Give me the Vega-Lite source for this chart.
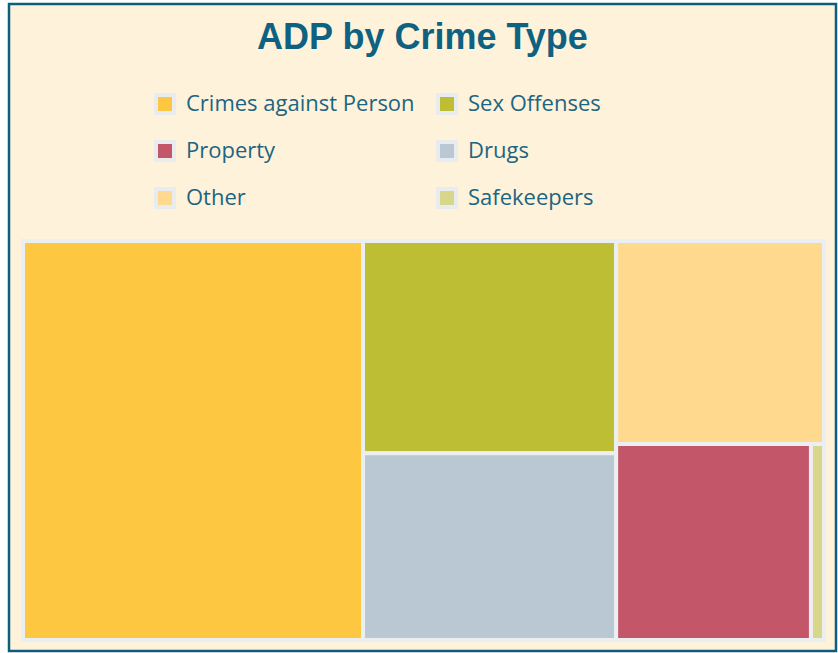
{
  "$schema": "https://vega.github.io/schema/vega-lite/v6.json",
  "width": 827,
  "height": 647,
  "autosize": {"type": "none"},
  "padding": {"left": 9, "top": 4, "right": 2, "bottom": 2},
  "background": "#ffffff",
  "config": {"view": {"fill": "#FFF2DA", "stroke": "#0B5E7C", "strokeWidth": 2.5}},
  "title": {
    "text": "ADP by Crime Type",
    "font": "Liberation Sans",
    "fontSize": 36,
    "fontWeight": "bold",
    "color": "#0E6180",
    "anchor": "middle",
    "frame": "group",
    "baseline": "alphabetic",
    "offset": -81
  },
  "data": {
    "values": [
      {"type": "Crimes against Person", "value": 849, "col": 1, "row": 1, "cell": 1},
      {"type": "Sex Offenses", "value": 336, "col": 2, "row": 1, "cell": 1},
      {"type": "Drugs", "value": 296, "col": 2, "row": 2, "cell": 1},
      {"type": "Other", "value": 264, "col": 3, "row": 1, "cell": 1},
      {"type": "Property", "value": 239, "col": 3, "row": 2, "cell": 1},
      {"type": "Safekeepers", "value": 16, "col": 3, "row": 2, "cell": 2}
    ]
  },
  "transform": [
    {"joinaggregate": [{"op": "sum", "field": "value", "as": "total"}]},
    {"joinaggregate": [{"op": "sum", "field": "value", "as": "colSum"}], "groupby": ["col"]},
    {"joinaggregate": [{"op": "sum", "field": "value", "as": "rowSum"}], "groupby": ["col", "row"]},
    {"window": [{"op": "sum", "field": "value", "as": "cumAll"}], "sort": [{"field": "col"}, {"field": "row"}, {"field": "cell"}]},
    {"joinaggregate": [{"op": "max", "field": "cumAll", "as": "colEnd"}], "groupby": ["col"]},
    {"window": [{"op": "sum", "field": "value", "as": "cumCol"}], "groupby": ["col"], "sort": [{"field": "row"}, {"field": "cell"}]},
    {"joinaggregate": [{"op": "max", "field": "cumCol", "as": "rowEnd"}], "groupby": ["col", "row"]},
    {"window": [{"op": "sum", "field": "value", "as": "cumRow"}], "groupby": ["col", "row"], "sort": [{"field": "cell"}]},
    {"calculate": "(datum.colEnd - datum.colSum + (datum.cumRow - datum.value) / datum.rowSum * datum.colSum) / datum.total", "as": "x0"},
    {"calculate": "(datum.colEnd - datum.colSum + datum.cumRow / datum.rowSum * datum.colSum) / datum.total", "as": "x1"},
    {"calculate": "(datum.rowEnd - datum.rowSum) / datum.colSum", "as": "y0"},
    {"calculate": "datum.rowEnd / datum.colSum", "as": "y1"}
  ],
  "mark": {"type": "rect", "stroke": "#ECEFF2", "strokeWidth": 4},
  "encoding": {
    "x": {"field": "x0", "type": "quantitative", "scale": {"domain": [0, 1], "range": [14, 815], "nice": false, "zero": false}, "axis": null},
    "x2": {"field": "x1"},
    "y": {"field": "y0", "type": "quantitative", "scale": {"domain": [0, 1], "range": [237, 636], "nice": false, "zero": false}, "axis": null},
    "y2": {"field": "y1"},
    "color": {
      "field": "type",
      "type": "nominal",
      "scale": {
        "domain": ["Crimes against Person", "Property", "Other", "Sex Offenses", "Drugs", "Safekeepers"],
        "range": ["#FDC741", "#C4566A", "#FFD98E", "#BDBE33", "#B9C8D3", "#D7D68A"]
      },
      "legend": {
        "orient": "none",
        "legendX": 145,
        "legendY": 89,
        "columns": 2,
        "title": null,
        "padding": 0,
        "symbolType": "square",
        "symbolSize": 324,
        "symbolStrokeWidth": 4,
        "symbolStrokeColor": "#E9ECEF",
        "symbolOpacity": 1,
        "labelFont": "Open Sans",
        "labelFontSize": 22,
        "labelColor": "#1B6582",
        "labelOffset": 10,
        "labelLimit": 400,
        "rowPadding": 13,
        "columnPadding": 15
      }
    }
  }
}
